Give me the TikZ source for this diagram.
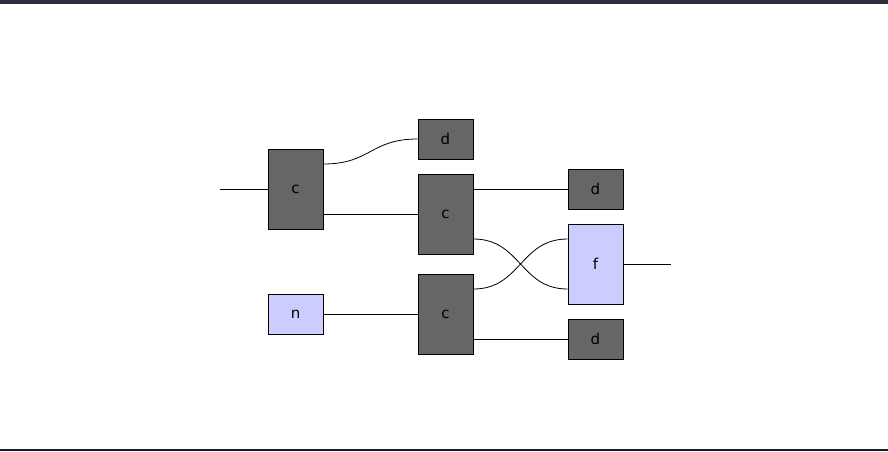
\documentclass[tikz,border=0pt]{standalone}
\usepackage{fontspec}
\setmainfont{DejaVu Sans}
\begin{document}
\begin{tikzpicture}[x=1pt,y=-1pt,
  darkbox/.style={draw=black, line width=0.8pt, fill=black!60, minimum width=55pt, inner sep=0pt, font=\fontsize{15}{17}\selectfont},
  lightbox/.style={draw=black, line width=0.8pt, fill={rgb,255:red,204;green,204;blue,255}, minimum width=55pt, inner sep=0pt, font=\fontsize{15}{17}\selectfont},
  tall/.style={minimum height=80pt},
  short/.style={minimum height=40pt},
  wire/.style={draw=black, line width=0.8pt}]
\useasboundingbox (0,0) rectangle (888,451);
\fill[fill={rgb,255:red,43;green,45;blue,61}] (0,0) rectangle (888,3.5);
\fill[fill={rgb,255:red,26;green,26;blue,40}] (0,449.3) rectangle (888,451);
\node[darkbox,tall] (c1) at (295.5,189) {c};
\node[darkbox,short] (d1) at (445.5,139) {d};
\node[darkbox,tall] (c2) at (445.5,214) {c};
\node[darkbox,tall] (c3) at (445.5,314) {c};
\node[lightbox,short] (n) at (295.5,314) {n};
\node[darkbox,short] (d2) at (595.5,189) {d};
\node[lightbox,tall] (f) at (595.5,264) {f};
\node[darkbox,short] (d3) at (595.5,339) {d};
\coordinate (in) at (220,189);
\coordinate (out) at (671,264);
\draw[wire] (in) -- (c1.west);
\draw[wire] (f.east) -- (out);
\draw[wire] ([yshift=25pt]c1.east) .. controls +(47.5,0) and +(-47.5,0) .. (d1.west);
\draw[wire] ([yshift=-25pt]c1.east) -- (c2.west);
\draw[wire] ([yshift=25pt]c2.east) -- (d2.west);
\draw[wire] ([yshift=-25pt]c2.east) .. controls +(47.5,0) and +(-47.5,0) .. ([yshift=-25pt]f.west);
\draw[wire] ([yshift=25pt]c3.east) .. controls +(47.5,0) and +(-47.5,0) .. ([yshift=25pt]f.west);
\draw[wire] ([yshift=-25pt]c3.east) -- (d3.west);
\draw[wire] (n.east) -- (c3.west);
\end{tikzpicture}
\end{document}
